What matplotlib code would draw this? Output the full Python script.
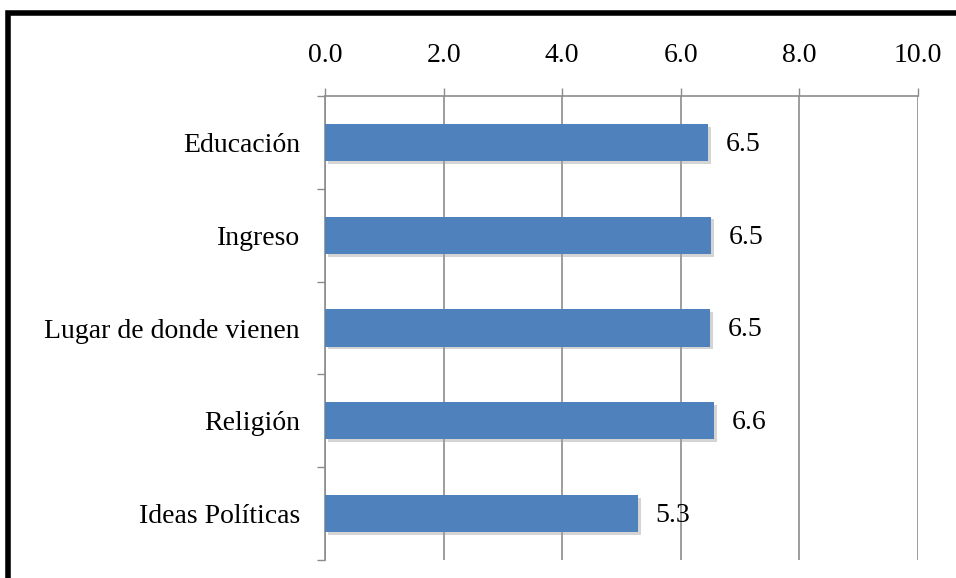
import matplotlib
matplotlib.use("Agg")
import matplotlib.pyplot as plt
import matplotlib.patheffects as pe
from matplotlib.patches import Rectangle
import numpy as np

# Data
categories = ["Educación", "Ingreso", "Lugar de donde vienen", "Religión", "Ideas Políticas"]
values = [6.46, 6.51, 6.50, 6.56, 5.28]
x_ticks = [0, 2, 4, 6, 8, 10]

plt.rcParams["font.family"] = ["Liberation Serif", "DejaVu Serif"]
FS = 20

fig = plt.figure(figsize=(9.56, 5.78), dpi=100)
ax = fig.add_axes([0.340, 0.031, 0.620, 0.803])

y = np.arange(len(categories))
bar_color = "#4f81bd"
bars = ax.barh(y, values, height=0.4, color=bar_color, zorder=3)
for b in bars:
    b.set_path_effects([pe.SimplePatchShadow(offset=(2, -2), shadow_rgbFace="#a0a0a0", alpha=0.45), pe.Normal()])

for yi, v in zip(y, values):
    ax.text(v + 0.3, yi + 0.02, f"{v:.1f}", va="center", ha="left", fontsize=FS, zorder=4)

ax.set_xlim(0, 10)
ax.set_ylim(len(categories) - 0.5, -0.5)
ax.set_xticks(x_ticks)
ax.set_xticklabels([f"{t:.1f}" for t in x_ticks], fontsize=FS)
ax.xaxis.tick_top()
ax.tick_params(axis="x", which="both", length=6, width=1, color="#8c8c8c", pad=14, direction="out")

ax.set_yticks(y)
ax.set_yticklabels(categories, fontsize=FS)
ax.set_yticks(np.arange(-0.5, len(categories), 1.0), minor=True)
ax.tick_params(axis="y", which="major", length=0, pad=18)
ax.tick_params(axis="y", which="minor", length=6, width=1, color="#8c8c8c", direction="out")

ax.grid(axis="x", color="#8c8c8c", linewidth=1.2, zorder=0)
for side in ["right", "bottom"]:
    ax.spines[side].set_visible(False)
for side in ["left", "top"]:
    ax.spines[side].set_color("#8c8c8c")
    ax.spines[side].set_linewidth(1.2)

# thick outer frame (cut off on right and bottom)
fig.patches.append(Rectangle((0.008, -0.1), 1.2, 1.078, transform=fig.transFigure,
                             fill=False, edgecolor="black", linewidth=4))

fig.savefig("out.png", dpi=100)
